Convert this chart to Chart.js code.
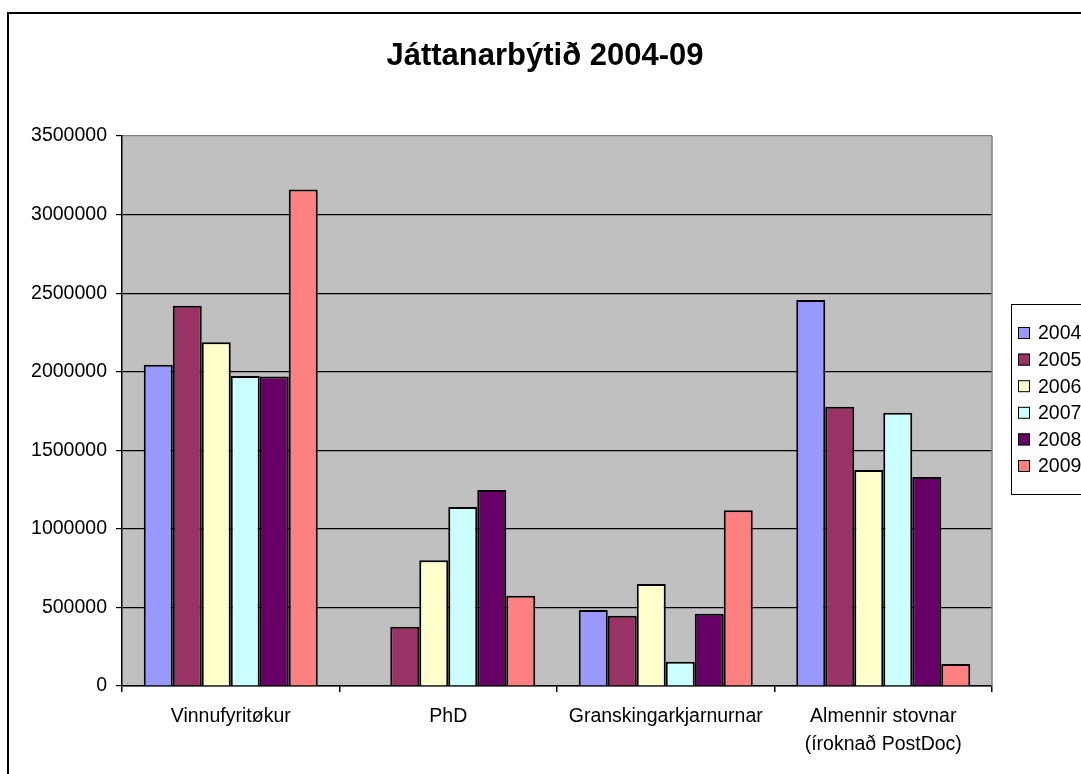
<!DOCTYPE html>
<html>
<head>
<meta charset="utf-8">
<title>Játtanarbýtið 2004-09</title>
<script src="https://cdn.jsdelivr.net/npm/chart.js@4.4.0/dist/chart.umd.min.js"></script>
<style>
    html, body { margin: 0; padding: 0; background: #fff; overflow: hidden; }
    #wrap { width: 1081px; height: 774px; position: relative; }
</style>
</head>
<body>
<div id="wrap"><canvas id="budgetChart"></canvas></div>
<script>
// categories and values
var categories = ['Vinnufyritøkur', 'PhD', 'Granskingarkjarnurnar', ['Almennir stovnar', '(íroknað PostDoc)']];
var years = ['2004', '2005', '2006', '2007', '2008', '2009'];

var values2004 = [2045000, null, 484000, 2456000];
var values2005 = [2420000, 377000, 447000, 1777000];
var values2006 = [2187000, 800000, 649000, 1374000];
var values2007 = [1973000, 1139000, 155000, 1739000];
var values2008 = [1970000, 1247000, 460000, 1330000];
var values2009 = [3160000, 575000, 1118000, 140000];

var yMin = 0;
var yMax = 3500000;
var yStep = 500000;

var colours = ['#9999FF', '#993366', '#FFFFCC', '#CCFFFF', '#660066', '#FF8080'];
var allValues = [values2004, values2005, values2006, values2007, values2008, values2009];

var fontFamily = "'Liberation Sans', Arial, sans-serif";

var datasets = years.map(function(year, i){
    return {
        label: year,
        data: allValues[i],
        backgroundColor: colours[i],
        borderColor: '#000000',
        borderWidth: 2,
        barPercentage: 1,
        categoryPercentage: 0.8
    };
});

// plot background, frame, title and boxed legend
var excelLook = {
    id: 'excelLook',
    beforeDraw: function(chart){
        var c = chart.ctx, a = chart.chartArea;
        c.save();
        c.fillStyle = '#ffffff';
        c.fillRect(0, 0, chart.width, chart.height);
        c.fillStyle = '#C0C0C0';
        c.fillRect(a.left, a.top, a.right - a.left, a.bottom - a.top);
        c.restore();
    },
    beforeDatasetsDraw: function(chart){
        var c = chart.ctx, a = chart.chartArea;
        c.save();
        c.strokeStyle = '#808080';
        c.lineWidth = 1.5;
        c.beginPath();
        c.moveTo(a.right, a.top);
        c.lineTo(a.right, a.bottom);
        c.stroke();
        c.restore();
    },
    afterDraw: function(chart){
        var c = chart.ctx;
        c.save();
        // outer frame
        c.strokeStyle = '#000000';
        c.lineWidth = 2;
        c.strokeRect(8, 13, 1200, 900);

        // title
        c.fillStyle = '#000000';
        c.font = 'bold 31px ' + fontFamily;
        c.textAlign = 'center';
        c.textBaseline = 'alphabetic';
        c.fillText('Játtanarbýtið 2004-09', 545, 65);

        // legend
        c.lineWidth = 1;
        c.strokeRect(1011.5, 304.5, 120, 190);
        c.font = '19.5px ' + fontFamily;
        c.textAlign = 'left';
        c.textBaseline = 'middle';
        chart.data.datasets.forEach(function(ds, i){
            var y = 333 + i * 26.6;
            c.fillStyle = ds.backgroundColor;
            c.fillRect(1018, y - 6, 12, 12);
            c.strokeStyle = '#000000';
            c.strokeRect(1018.5, y - 5.5, 11, 11);
            c.fillStyle = '#000000';
            c.fillText(ds.label, 1038, y + 1);
        });
        c.restore();
    }
};

var ctx = document.getElementById('budgetChart').getContext('2d');
var myChart = new Chart(ctx, {
    type: 'bar',
    data: {
        labels: categories,
        datasets: datasets
    },
    options: {
        responsive: true,
        maintainAspectRatio: false,
        animation: false,
        layout: {
            padding: { left: 8, top: 136, right: 89, bottom: 0 }
        },
        plugins: {
            legend: { display: false },
            title: { display: false },
            tooltip: { enabled: false }
        },
        scales: {
            x: {
                ticks: {
                    color: '#000000',
                    font: { family: fontFamily, size: 19.5, lineHeight: 1.45 },
                    padding: 10,
                    maxRotation: 0,
                    autoSkip: false
                },
                grid: {
                    display: true,
                    drawOnChartArea: false,
                    drawTicks: true,
                    tickLength: 6,
                    color: '#000000',
                    lineWidth: 1.5,
                    offset: true
                },
                border: { color: '#000000', width: 1.5 },
                afterFit: function(scale){ scale.height = 88; }
            },
            y: {
                min: yMin,
                max: yMax,
                ticks: {
                    stepSize: yStep,
                    color: '#000000',
                    font: { family: fontFamily, size: 19.5 },
                    padding: 9,
                    callback: function(value){ return String(value); }
                },
                grid: {
                    color: function(c){ return c.tick && c.tick.value === yMax ? '#808080' : '#000000'; },
                    lineWidth: 1.2,
                    tickLength: 6,
                    tickColor: '#000000'
                },
                border: { color: '#000000', width: 1.5 },
                afterFit: function(scale){ scale.width = 114; }
            }
        }
    },
    plugins: [excelLook]
});
</script>
</body>
</html>
